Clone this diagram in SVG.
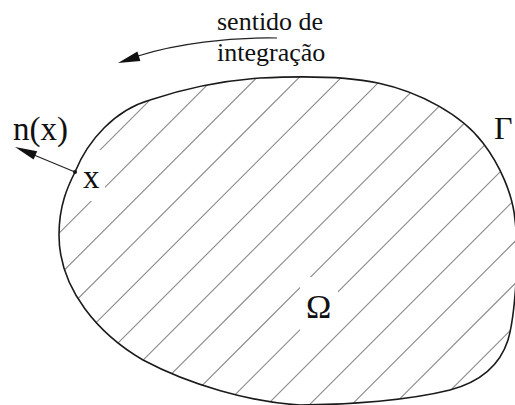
<svg xmlns="http://www.w3.org/2000/svg" width="515" height="405" viewBox="0 0 515 405">
<style>
.bd{fill:none;stroke:#1a1a1a;stroke-width:1.6}
.ht line{stroke:#8a8a8a;stroke-width:1.1}
.lbl{font-family:'Liberation Serif','Times New Roman',serif;fill:#111}
.con{fill:none;stroke:#222;stroke-width:1.2}
.head{fill:#111;stroke:none}
</style>
<defs>
<path id="shape" d="M75,172 C68,186 59,205 59,235 C59,290 100,335 143,360 C190,385 250,402 300,405 C350,405 410,400 450,390 C480,382 500,365 508,340 C514,320 520,260 515,220 C513,195 500,165 483,143 C462,115 420,92 378,83 C345,76 300,76 260,78 C220,81 180,90 150,100 C115,110 88,140 75,172 Z"/>
<clipPath id="clip"><use href="#shape"/></clipPath>
<mask id="gaps" maskUnits="userSpaceOnUse" x="0" y="0" width="515" height="405">
<rect x="0" y="0" width="515" height="405" fill="#fff"/>
<rect x="300" y="277" width="38" height="54" fill="#000"/>
<rect x="70" y="150" width="35" height="51" fill="#000"/>
</mask>
</defs>
<g id="region">
<g class="ht" clip-path="url(#clip)">
<g mask="url(#gaps)">
<line x1="-170" y1="420" x2="270" y2="-20"/>
<line x1="-127.8" y1="420" x2="312.2" y2="-20"/>
<line x1="-85.6" y1="420" x2="354.4" y2="-20"/>
<line x1="-43.4" y1="420" x2="396.6" y2="-20"/>
<line x1="-1.2" y1="420" x2="438.8" y2="-20"/>
<line x1="41" y1="420" x2="481" y2="-20"/>
<line x1="83.2" y1="420" x2="523.2" y2="-20"/>
<line x1="125.4" y1="420" x2="565.4" y2="-20"/>
<line x1="167.6" y1="420" x2="607.6" y2="-20"/>
<line x1="209.8" y1="420" x2="649.8" y2="-20"/>
<line x1="252" y1="420" x2="692" y2="-20"/>
<line x1="294.2" y1="420" x2="734.2" y2="-20"/>
<line x1="336.4" y1="420" x2="776.4" y2="-20"/>
<line x1="378.6" y1="420" x2="818.6" y2="-20"/>
<line x1="420.8" y1="420" x2="860.8" y2="-20"/>
</g>
</g>
<use href="#shape" class="bd"/>
<circle cx="75" cy="172" r="2" fill="#111"/>
</g>
<g id="connectors">
<g id="integration-arrow">
<path class="con" d="M277,38 C230,37 175,44 138,56"/>
<polygon class="head" points="118,63 137.4,51.5 140.4,61.1"/>
</g>
<g id="normal-arrow">
<line class="con" x1="75" y1="172" x2="34" y2="155"/>
<polygon class="head" points="15,147 37.2,151.2 33.6,159.6"/>
</g>
</g>
<g id="label-sentido">
<text class="lbl" font-family="'Liberation Serif', serif" x="217" y="30" font-size="26">sentido de</text>
<text class="lbl" font-family="'Liberation Serif', serif" x="217" y="61" font-size="26">integração</text>
</g>
<g id="label-n"><text class="lbl" font-family="'Liberation Serif', serif" x="13" y="140" font-size="33">n(x)</text></g>
<g id="label-x"><text class="lbl" font-family="'Liberation Serif', serif" x="83" y="188" font-size="33">x</text></g>
<g id="label-gamma"><text class="lbl" font-family="'Liberation Serif', serif" x="494" y="139" font-size="32">Γ</text></g>
<g id="label-omega"><text class="lbl" font-family="'Liberation Serif', serif" x="306" y="318" font-size="34">Ω</text></g>
</svg>
